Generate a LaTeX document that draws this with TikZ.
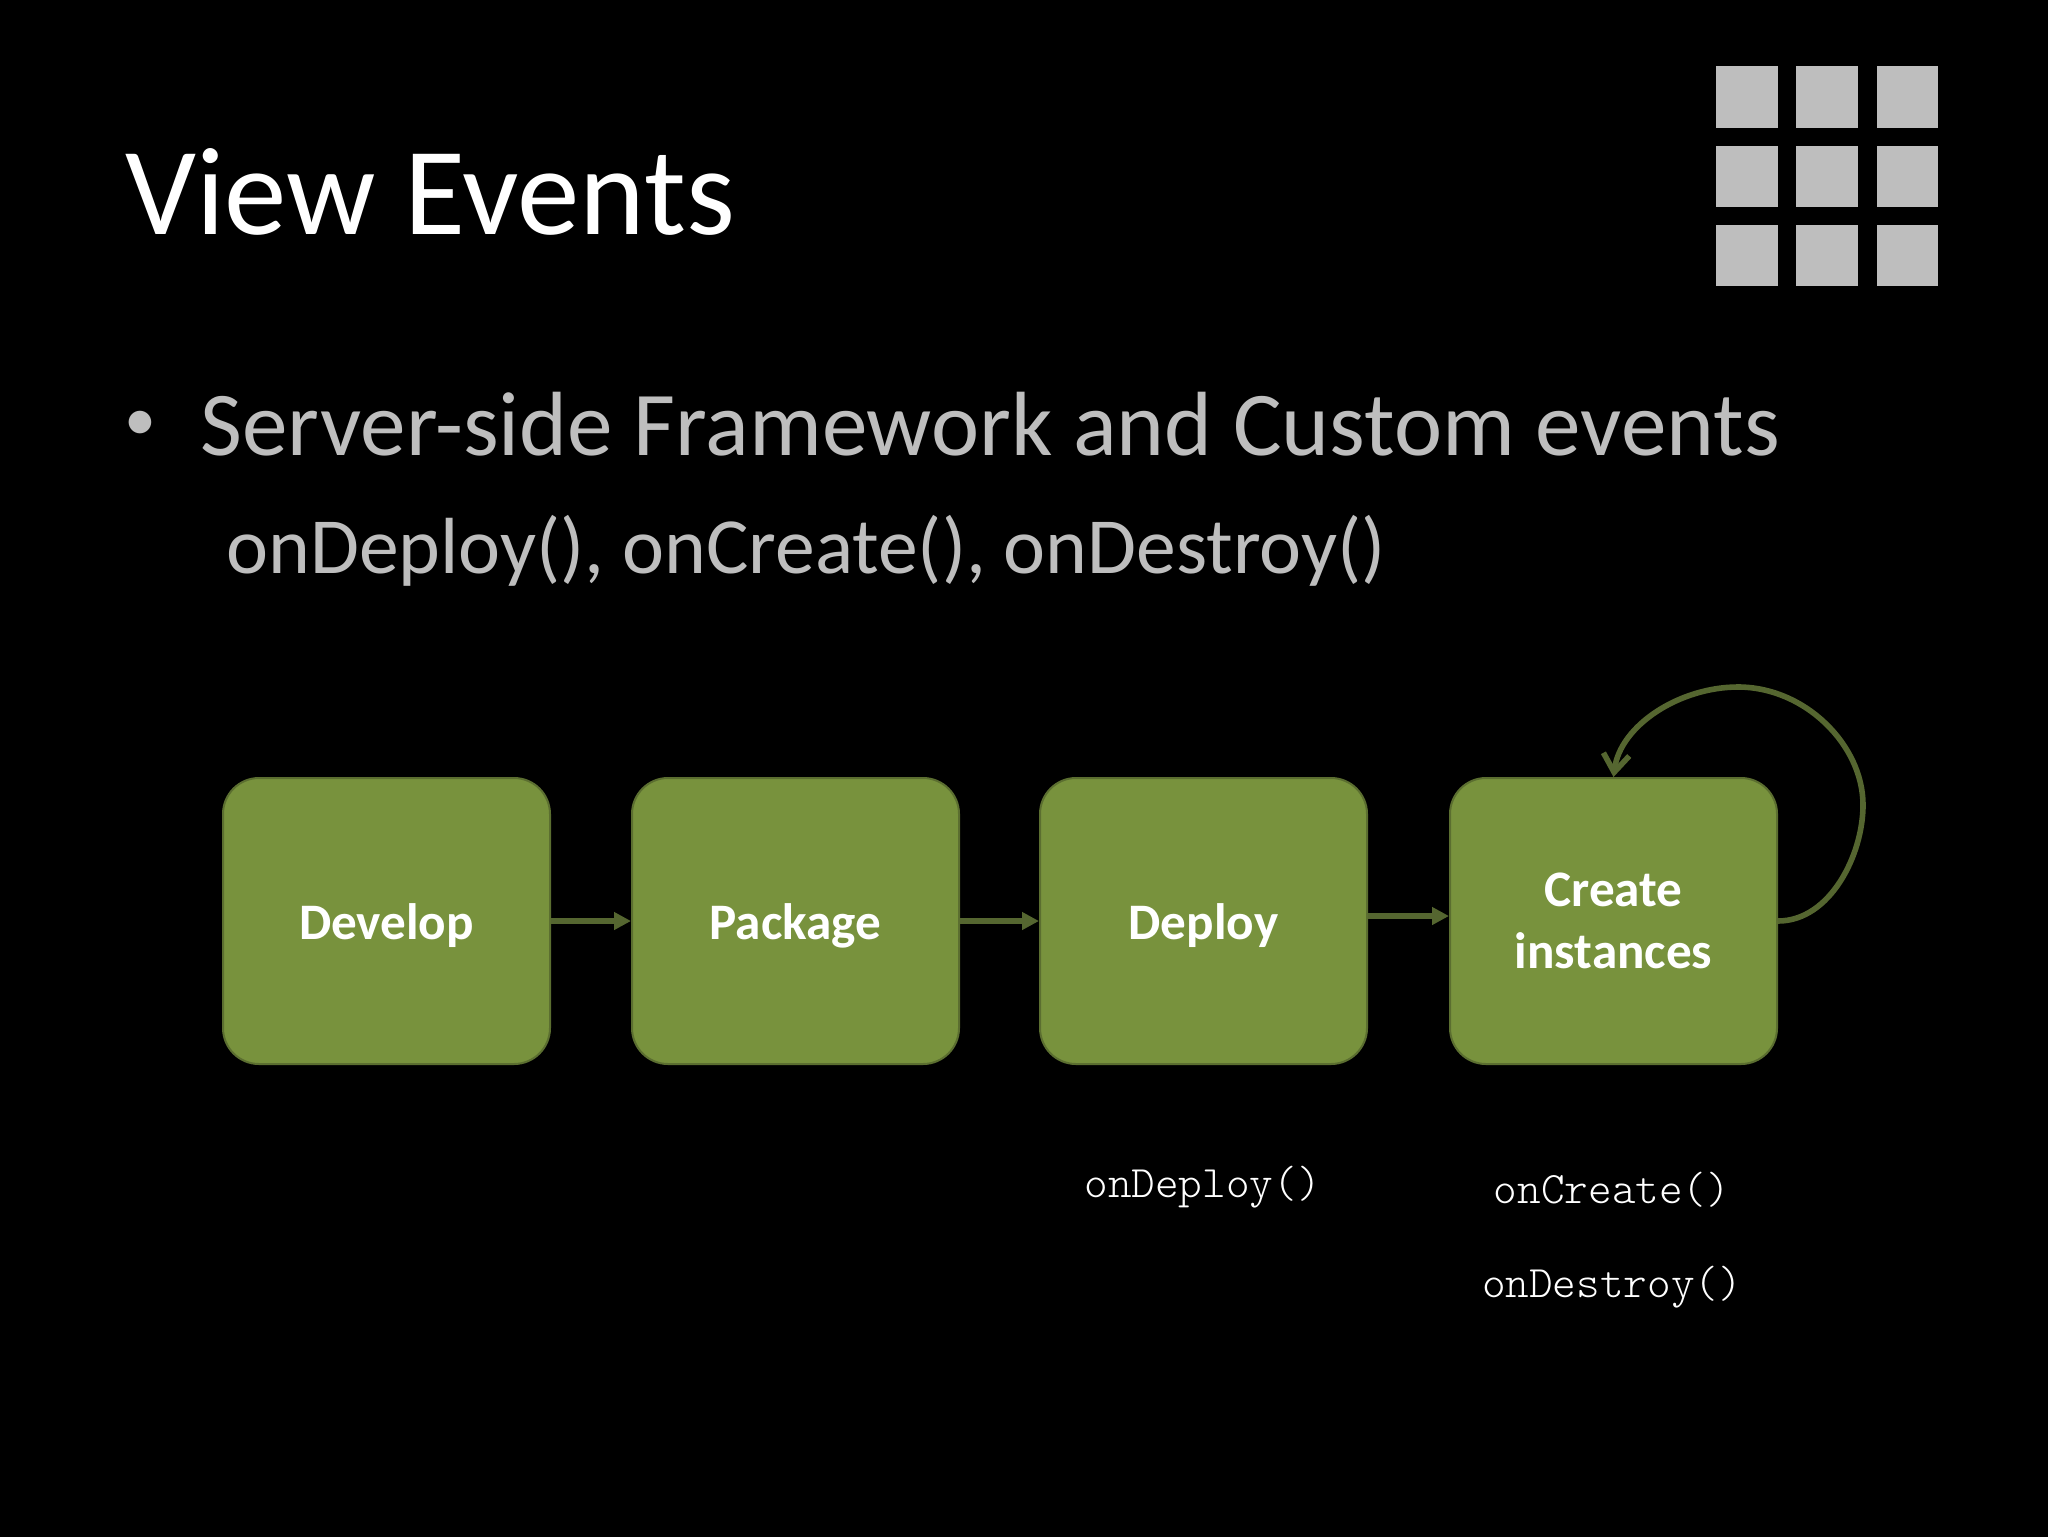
\documentclass[tikz,border=0pt]{standalone}
\usepackage{fontspec}
\setmainfont{Carlito}
\usetikzlibrary{arrows.meta}
\definecolor{boxfill}{HTML}{78923D}
\definecolor{boxline}{HTML}{5B6E30}
\definecolor{arrowc}{HTML}{556630}
\definecolor{greyc}{HTML}{BEBEBE}
\tikzset{
  px/.style={x=0.5pt,y=-0.5pt},
  box/.style={draw=boxline,line width=1pt,fill=boxfill,rounded corners=18pt,minimum width=163.5pt,minimum height=143pt,inner sep=0pt,text=white,font=\fontsize{25.6}{30.7}\selectfont\bfseries,align=center},
  oneline/.style={text height=25pt,text depth=7pt},
  twoline/.style={text height=55pt,text depth=8pt},
  flow/.style={draw=arrowc,line width=2.6pt,-{Triangle[length=8.5pt,width=8.5pt]}},
  loopc/.style={draw=arrowc,line width=2.8pt,-{Straight Barb[length=9pt,width=13pt,line width=2.8pt]}},
  sq/.style={fill=greyc,draw=none,minimum width=30.75pt,minimum height=30.75pt,inner sep=0pt},
  mono/.style={text=white,inner sep=0pt,font=\fontsize{22.5}{26}\ttfamily\fontseries{l}\selectfont},
  txt/.style={inner sep=0pt,anchor=base west},
}
\begin{document}
\begin{tikzpicture}[px]
\useasboundingbox (0,0) rectangle (2048,1536);
\fill[black] (-10,-10) rectangle (2058,1546);
\node[txt,text=white,font=\fontsize{62.5}{70}\selectfont] (title) at (125,234) {View Events};
\foreach \c/\x/\y in {a/1747/97,b/1827/97,c/1907.5/97,d/1747/176.5,e/1827/176.5,f/1907.5/176.5,g/1747/255.5,h/1827/255.5,i/1907.5/255.5}
  \node[sq] (sq\c) at (\x,\y) {};
\node[txt,text=greyc,font=\fontsize{32}{36}\selectfont] (bul) at (124,440) {•};
\node[txt,text=greyc,font=\fontsize{45.6}{50}\selectfont] (h1) at (200,455) {Server-side Framework and Custom events};
\node[txt,text=greyc,font=\fontsize{39.8}{45}\selectfont] (h2) at (226,573) {onDeploy(), onCreate(), onDestroy()};
\node[box,oneline] (dev) at (386.5,921) {Develop};
\node[box,oneline] (pkg) at (795.5,921) {Package};
\node[box,oneline] (dep) at (1203.5,921) {Deploy};
\node[box,twoline] (cre) at (1613.5,921) {Create\\instances};
\draw[flow] (dev.east) -- (pkg.west);
\draw[flow] (pkg.east) -- (dep.west);
\draw[flow] ([yshift=2.5pt]dep.east) -- ([yshift=2.5pt]cre.west);
\coordinate (lr) at (1863,805);
\coordinate (lt) at (1738,687);
\draw[loopc] (cre.east) .. controls (1830,921) and (1863,855) .. (lr) .. controls (1863,745) and (1805,687) .. (lt) .. controls (1680,687) and (1620,725) .. (cre.north);
\node[mono] (m1) at (1202.5,1187) {onDeploy()};
\node[mono] (m2) at (1612,1190) {onCreate()};
\node[mono] (m3) at (1612,1287) {onDestroy()};
\end{tikzpicture}
\end{document}
